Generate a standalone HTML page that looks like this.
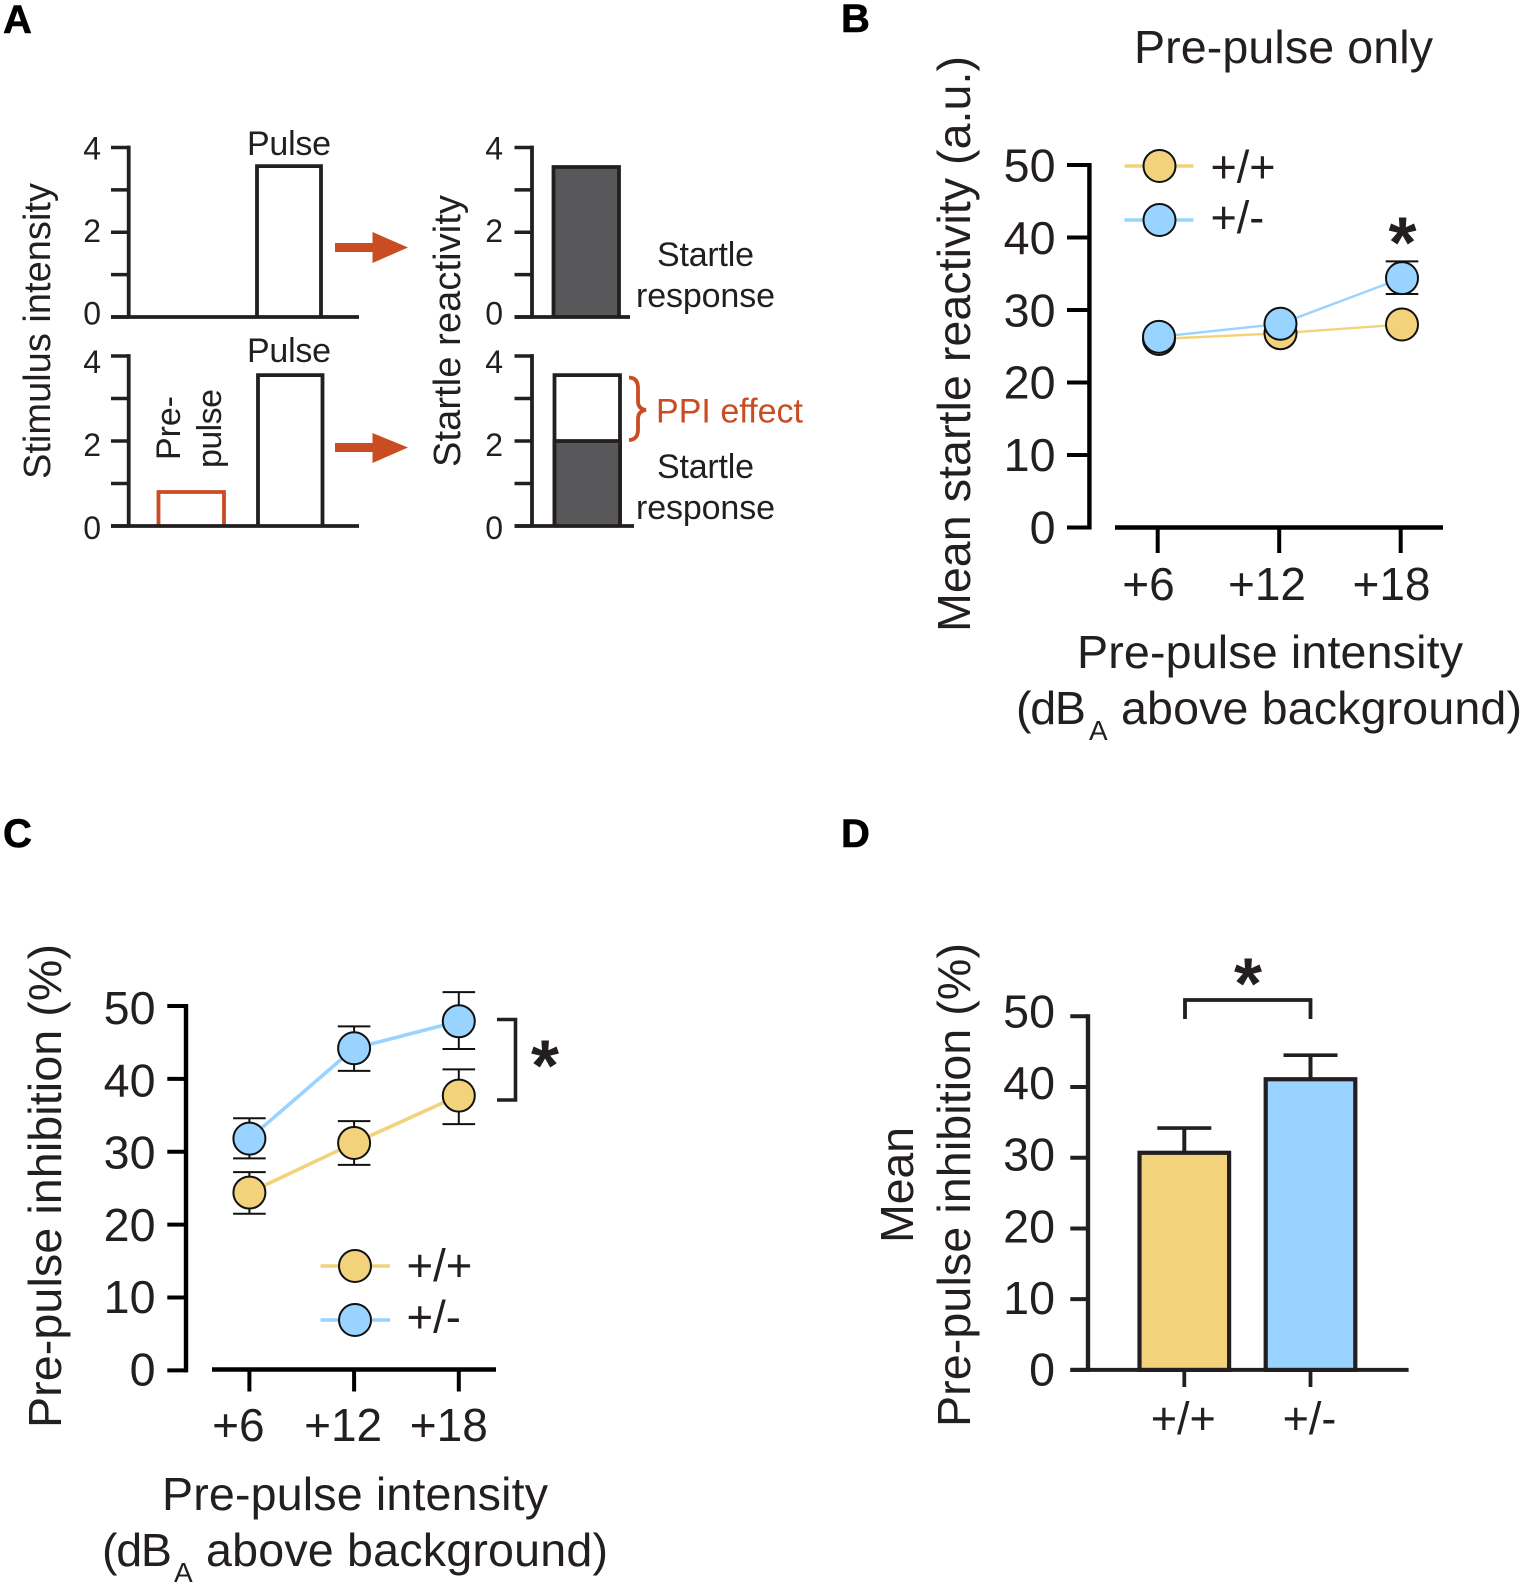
<!DOCTYPE html>
<html lang="en">
<head>
<meta charset="utf-8">
<title>Startle reactivity and pre-pulse inhibition</title>
<style>
html,body{margin:0;padding:0;background:#fff}
svg{display:block}
text{font-family:"Liberation Sans",Arial,sans-serif;fill:#231f20}
.panel{font-weight:bold;font-size:40px;fill:#000;stroke:#000;stroke-width:.6px}
.a{font-size:34px}
.atitle{font-size:38px}
.big{font-size:46.6px}
.org{fill:#c94c22}
</style>
</head>
<body>
<svg id="fig" xmlns="http://www.w3.org/2000/svg" width="1524" height="1586" viewBox="0 0 1524 1586">
<rect x="0" y="0" width="1524" height="1586" fill="#fff"/>
<text class="panel" x="3" y="33">A</text>
<text class="panel" x="841" y="32">B</text>
<text class="panel" x="3" y="847">C</text>
<text class="panel" x="841" y="847">D</text>

<text class="atitle" transform="translate(50 479) rotate(-90)" textLength="296">Stimulus intensity</text>
<text class="atitle" transform="translate(460 467) rotate(-90)" textLength="272">Startle reactivity</text>
<text class="a" x="247" y="155" textLength="84">Pulse</text>
<text class="a" x="247" y="362" textLength="84">Pulse</text>
<text class="a" transform="translate(180 460) rotate(-90)" textLength="64">Pre-</text>
<text class="a" transform="translate(221 468) rotate(-90)" textLength="79">pulse</text>
<text class="a" x="657" y="266" textLength="97">Startle</text>
<text class="a" x="636" y="307" textLength="139">response</text>
<text class="a" x="657" y="478" textLength="97">Startle</text>
<text class="a" x="636" y="519" textLength="139">response</text>
<text class="a org" x="656" y="422.500" textLength="147">PPI effect</text>
<path d="M629 377.500 Q638 378 638 388 L638 401 Q638 409 646 410 Q638 411 638 419 L638 430 Q638 439.500 629 440" fill="none" stroke="#c94c22" stroke-width="3.800"/>
<path d="M335 243 H372.500 V232 L408 247.500 L372.500 263 V252 H335 Z" fill="#c94c22"/>
<path d="M335 443 H372.500 V433 L408 447.500 L372.500 463 V452 H335 Z" fill="#c94c22"/>

<text class="big" x="1134" y="63" textLength="299">Pre-pulse only</text>
<text class="big" transform="translate(970 632) rotate(-90)" textLength="576">Mean startle reactivity (a.u.)</text>
<text class="big" x="1077" y="668" textLength="386">Pre-pulse intensity</text>
<text class="big" x="1016" y="724" textLength="70">(dB</text>
<text x="1089" y="740" font-size="28">A</text>
<text class="big" x="1121" y="724" textLength="401">above background)</text>

<text class="big" transform="translate(61 1428) rotate(-90)" textLength="484">Pre-pulse inhibition (%)</text>
<text class="big" x="162" y="1510" textLength="386">Pre-pulse intensity</text>
<text class="big" x="102" y="1566" textLength="70">(dB</text>
<text x="174" y="1582" font-size="28">A</text>
<text class="big" x="206" y="1566" textLength="402">above background)</text>

<text class="big" transform="translate(913 1243) rotate(-90)" textLength="116">Mean</text>
<text class="big" transform="translate(970 1427) rotate(-90)" textLength="484">Pre-pulse inhibition (%)</text>
</svg>
<script>
// ---------- Panel A data ----------
const aTickValues = [0, 1, 2, 3, 4];
const aTickLabels = ['0', '2', '4'];
const aLabelValues = [0, 2, 4];
const aTopPulse = 3.56;
const aBottomPulse = 3.55;
const aPrePulse = 0.8;
const aTopResponse = 3.54;
const aBottomResponse = 2.0;
const aBottomTotal = 3.55;

// ---------- Panel B data ----------
const bCategories = ['+6', '+12', '+18'];
const bTicks = [0, 10, 20, 30, 40, 50];
const bWild = [26.0, 26.8, 28.0];
const bHet = [26.3, 28.1, 34.4];
const bHetUpper = [null, null, 36.7];
const bHetLower = [null, null, 32.2];

// ---------- Panel C data ----------
const cCategories = ['+6', '+12', '+18'];
const cTicks = [0, 10, 20, 30, 40, 50];
const cWild = [24.4, 31.2, 37.7];
const cWildUpper = [27.2, 34.2, 41.3];
const cWildLower = [21.5, 28.2, 33.8];
const cHet = [31.8, 44.2, 47.9];
const cHetUpper = [34.6, 47.2, 51.9];
const cHetLower = [29.1, 41.1, 44.1];

// ---------- Panel D data ----------
const dCategories = ['+/+', '+/-'];
const dTicks = [0, 10, 20, 30, 40, 50];
const dMeans = [30.7, 41.1];
const dUpper = [34.2, 44.5];

const INK = '#231f20', WT = '#f2d27a', HET = '#99d3ff', ORANGE = '#c94c22', DARK = '#58585a';
const svg = document.getElementById('fig');
const NS = 'http://www.w3.org/2000/svg';

function mk(tag, attrs, name) {
  const el = document.createElementNS(NS, tag);
  for (const k in attrs) el.setAttribute(k, attrs[k]);
  
  
  svg.appendChild(el);
  return el;
}
function line(x1, y1, x2, y2, color, w, name) {
  return mk('line', {x1, y1, x2, y2, stroke: color, 'stroke-width': w}, name);
}
function label(x, y, str, size, anchor, name) {
  const t = mk('text', {x, y, 'font-size': size, 'text-anchor': anchor}, name);
  t.textContent = str;
  return t;
}
function star(cx, cy, name) {
  const t = mk('text', {x: cx, y: cy + 35, 'font-size': 72, 'font-weight': 'bold', 'text-anchor': 'middle'}, name);
  t.textContent = '*';
  return t;
}
function linear(v0, p0, v1, p1) {
  return v => p0 + (v - v0) * (p1 - p0) / (v1 - v0);
}

// ---------- Panel A ----------
function miniAxes(axisX, tickX0, xEnd, y, labelRight, labelY, prefix) {
  line(axisX, y(4) - 1.9, axisX, y(0), INK, 3.8, prefix + '-y-axis');
  line(tickX0, y(0), xEnd, y(0), INK, 3.8, prefix + '-x-axis');
  aTickValues.forEach(v => {
    line(tickX0, y(v), axisX, y(v), INK, 3.4, prefix + '-y-tick-' + v);
  });
  aLabelValues.forEach((v, i) => {
    label(labelRight, labelY(v), aTickLabels[i], 32, 'end', prefix + '-y-label-' + v);
  });
}
function box(x0, x1, yTop, yBase, fill, stroke, name) {
  return mk('path', {d: `M${x0} ${yBase} V${yTop} H${x1} V${yBase}`, fill, stroke, 'stroke-width': 3.8}, name);
}
const yA1 = linear(0, 317, 4, 147.5);
const yA2 = linear(0, 526, 4, 356);
const lA1 = linear(0, 324.5, 4, 159.5);
const lA2 = linear(0, 539, 4, 373);
box(257, 321, yA1(aTopPulse), yA1(0), '#fff', INK, 'pulse-bar-top');
miniAxes(128.7, 111, 359, yA1, 101, lA1, 'stimulus-top');
box(158.5, 224, yA2(aPrePulse), yA2(0), '#fff', ORANGE, 'prepulse-bar');
box(258, 322.5, yA2(aBottomPulse), yA2(0), '#fff', INK, 'pulse-bar-bottom');
miniAxes(128.7, 111, 359, yA2, 101, lA2, 'stimulus-bottom');
box(553.5, 619, yA1(aTopResponse), yA1(0), DARK, INK, 'startle-bar-top');
miniAxes(532, 514.5, 630, yA1, 503, lA1, 'reactivity-top');
box(554.5, 620, yA2(aBottomTotal), yA2(0), '#fff', INK, 'ppi-effect-bar');
box(554.5, 620, yA2(aBottomResponse), yA2(0), DARK, INK, 'startle-bar-bottom');
miniAxes(532, 514.5, 634, yA2, 503, lA2, 'reactivity-bottom');

// ---------- Shared line-panel drawing ----------
function yAxis(cfg, prefix) {
  line(cfg.axisX, cfg.y(50) - 2, cfg.axisX, cfg.y(0) + 2, cfg.ink, 4.4, prefix + '-y-axis');
  cfg.ticks.forEach(v => {
    line(cfg.tickX, cfg.y(v), cfg.axisX, cfg.y(v), cfg.ink, 4, prefix + '-y-tick-' + v);
    label(cfg.labelX, cfg.yLabel(v), String(v), 46.6, 'end', prefix + '-y-label-' + v);
  });
}
function dot(cx, cy, r, fill, name) {
  return mk('circle', {cx, cy, r, fill, stroke: '#111', 'stroke-width': 2}, name);
}
function drawSeries(values, upper, lower, color, lw, x, y, prefix) {
  const pts = values.map((v, i) => `${x(i)},${y(v)}`).join(' ');
  mk('polyline', {points: pts, fill: 'none', stroke: color, 'stroke-width': lw}, prefix + '-line');
  values.forEach((v, i) => {
    if (upper[i] !== null && upper[i] !== undefined) {
      line(x(i), y(upper[i]), x(i), y(lower[i]), '#111', 2, prefix + '-error-bar-' + i);
      line(x(i) - 16.3, y(upper[i]), x(i) + 16.3, y(upper[i]), '#111', 2, prefix + '-error-cap-upper-' + i);
      line(x(i) - 16.3, y(lower[i]), x(i) + 16.3, y(lower[i]), '#111', 2, prefix + '-error-cap-lower-' + i);
    }
  });
}
function drawDots(values, color, x, y, r, prefix) {
  values.forEach((v, i) => {
    dot(x(i), y(v), r, color, prefix + '-point-' + i);
  });
}
function legend(x0, x1, cx, yy, color, lw, text, textX, textY, size, prefix) {
  line(x0, yy, x1, yy, color, lw, prefix + '-legend-line');
  dot(cx, yy, 16, color, prefix + '-legend-marker');
  label(textX, textY, text, size, 'start', prefix + '-legend-label');
}

// ---------- Panel B ----------
const yB = linear(0, 527.5, 50, 165);
const yBLabel = linear(0, 543.5, 50, 181.5);
const xB = i => 1159 + i * 121.5;
yAxis({axisX: 1089.4, tickX: 1067, labelX: 1055.5, ink: '#000', ticks: bTicks, y: yB, yLabel: yBLabel}, 'panel-b');
line(1115, 527.5, 1443, 527.5, '#000', 4.4, 'panel-b-x-axis');
bCategories.forEach((c, i) => {
  line(xB(i) - 1.3, 527.5, xB(i) - 1.3, 553, '#000', 4, 'panel-b-x-tick-' + i);
  label(xB(i) - (i === 1 ? 13.5 : 10.5), 600, c, 46, 'middle', 'panel-b-x-label-' + i);
});
drawSeries(bWild, [null, null, null], [null, null, null], WT, 2.4, xB, yB, 'panel-b-wild');
drawSeries(bHet, bHetUpper, bHetLower, HET, 2.4, xB, yB, 'panel-b-het');
drawDots(bWild, WT, xB, yB, 16, 'panel-b-wild');
drawDots(bHet, HET, xB, yB, 16, 'panel-b-het');
legend(1124.5, 1193.5, 1159.5, 166, WT, 3.4, '+/+', 1210.5, 182.5, 45, 'panel-b-wild');
legend(1124.5, 1193.5, 1159.5, 220, HET, 3.4, '+/-', 1210.5, 233, 45, 'panel-b-het');
star(1402.5, 232.5, 'panel-b-significance-star');

// ---------- Panel C ----------
const yC = linear(0, 1370.4, 50, 1006);
const yCLabel = linear(0, 1385.5, 50, 1024);
const xC = i => 249.4 + i * 104.7;
yAxis({axisX: 186, tickX: 167.3, labelX: 155.5, ink: '#000', ticks: cTicks, y: yC, yLabel: yCLabel}, 'panel-c');
line(212, 1369.5, 496, 1369.5, '#000', 4.4, 'panel-c-x-axis');
cCategories.forEach((c, i) => {
  line(xC(i), 1369.5, xC(i), 1391.5, '#000', 4, 'panel-c-x-tick-' + i);
  label(xC(i) - (i === 2 ? 10 : 11), 1441, c, 46, 'middle', 'panel-c-x-label-' + i);
});
drawSeries(cWild, cWildUpper, cWildLower, WT, 3.6, xC, yC, 'panel-c-wild');
drawSeries(cHet, cHetUpper, cHetLower, HET, 3.6, xC, yC, 'panel-c-het');
drawDots(cWild, WT, xC, yC, 16, 'panel-c-wild');
drawDots(cHet, HET, xC, yC, 16, 'panel-c-het');
legend(320.5, 390, 355, 1266, WT, 3.4, '+/+', 406.5, 1281, 45.5, 'panel-c-wild');
legend(320.5, 390, 355, 1320, HET, 3.4, '+/-', 406.5, 1332.5, 45.5, 'panel-c-het');
mk('path', {d: 'M497 1019.500 H515.500 V1100 H497', fill: 'none', stroke: INK, 'stroke-width': 3.6}, 'panel-c-significance-bracket');
star(545, 1055.5, 'panel-c-significance-star');

// ---------- Panel D ----------
const yD = linear(0, 1369.9, 50, 1016.3);
const yDLabel = linear(0, 1385.5, 50, 1027.5);
const xD = i => 1184.3 + i * 126.2;
yAxis({axisX: 1088, tickX: 1070.3, labelX: 1055, ink: INK, ticks: dTicks, y: yD, yLabel: yDLabel}, 'panel-d');
line(1070.3, 1369.9, 1408.6, 1369.9, INK, 4, 'panel-d-x-axis');
const dColors = [WT, HET];
dCategories.forEach((c, i) => {
  const cx = xD(i);
  line(cx, yD(dUpper[i]), cx, yD(dMeans[i]), INK, 4, 'panel-d-error-bar-' + i);
  line(cx - 27, yD(dUpper[i]), cx + 27, yD(dUpper[i]), INK, 3.6, 'panel-d-error-cap-' + i);
  mk('rect', {x: cx - 44.8, y: yD(dMeans[i]), width: 89.6, height: yD(0) - yD(dMeans[i]), fill: dColors[i], stroke: INK, 'stroke-width': 4.2}, 'panel-d-bar-' + i);
  line(cx, 1369.9, cx, 1387, INK, 3.8, 'panel-d-x-tick-' + i);
  label(cx - 1, 1434, c, 45, 'middle', 'panel-d-x-label-' + i);
});
mk('path', {d: 'M1185 1019 V1000 H1310.500 V1019', fill: 'none', stroke: INK, 'stroke-width': 3.8}, 'panel-d-significance-bracket');
star(1248, 973.5, 'panel-d-significance-star');
</script>
</body>
</html>
